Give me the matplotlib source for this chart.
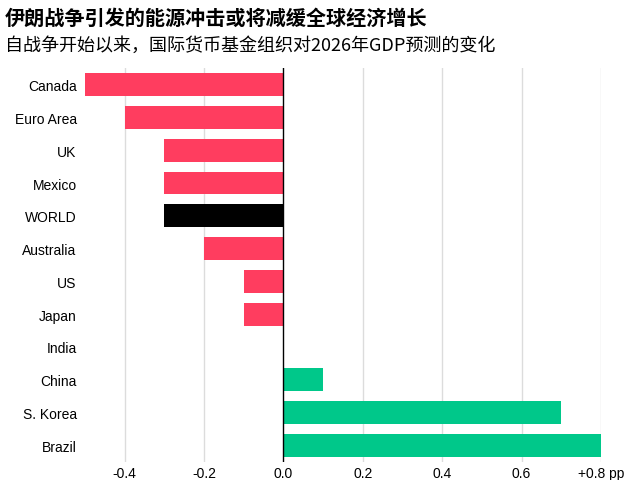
import matplotlib
matplotlib.use("Agg")
import matplotlib.pyplot as plt

# Data
countries = ["Canada", "Euro Area", "UK", "Mexico", "WORLD", "Australia",
             "US", "Japan", "India", "China", "S. Korea", "Brazil"]
changes = [-0.5, -0.4, -0.3, -0.3, -0.3, -0.2, -0.1, -0.1, 0.0, 0.1, 0.7, 0.8]
tick_values = [-0.4, -0.2, 0.0, 0.2, 0.4, 0.6, 0.8]
tick_labels = ["-0.4", "-0.2", "0.0", "0.2", "0.4", "0.6", "+0.8 pp"]

title = "伊朗战争引发的能源冲击或将减缓全球经济增长"
subtitle = "自战争开始以来，国际货币基金组织对2026年GDP预测的变化"

RED = "#ff3d5f"
GREEN = "#00c88a"

plt.rcParams["font.family"] = ["Liberation Sans", "Noto Sans CJK SC", "DejaVu Sans"]

fig = plt.figure(figsize=(6.37, 4.81), dpi=100)
ax = fig.add_axes([0.1334, 0.038, 0.81, 0.818])

colors = []
for name, v in zip(countries, changes):
    if name == "WORLD":
        colors.append("black")
    elif v < 0:
        colors.append(RED)
    else:
        colors.append(GREEN)

ypos = list(range(len(countries)))
ax.barh(ypos, changes, height=0.7, color=colors, zorder=3)

ax.set_xlim(-0.5, 0.8)
ax.set_ylim(len(countries) - 0.5, -0.5)

# gridlines and the zero line
for t in tick_values:
    if t == 0:
        ax.axvline(t, color="black", lw=1.0, zorder=4)
    else:
        ax.axvline(t, color="#dcdcdc", lw=1.0, zorder=1)

ax.set_xticks(tick_values)
ax.set_xticklabels(tick_labels, fontsize=10)
ax.set_yticks(ypos)
ax.set_yticklabels(countries, fontsize=10)
ax.tick_params(axis="both", length=0)
ax.tick_params(axis="y", pad=6)
ax.tick_params(axis="x", pad=3)

for s in ax.spines.values():
    s.set_visible(False)

fig.text(0.008, 0.962, title, fontsize=14.5, fontweight="bold",
         family=["Noto Sans CJK SC", "DejaVu Sans"], va="center")
fig.text(0.008, 0.905, subtitle, fontsize=13,
         family=["Noto Sans CJK SC", "DejaVu Sans"], va="center")

fig.savefig("out.png", dpi=100)
